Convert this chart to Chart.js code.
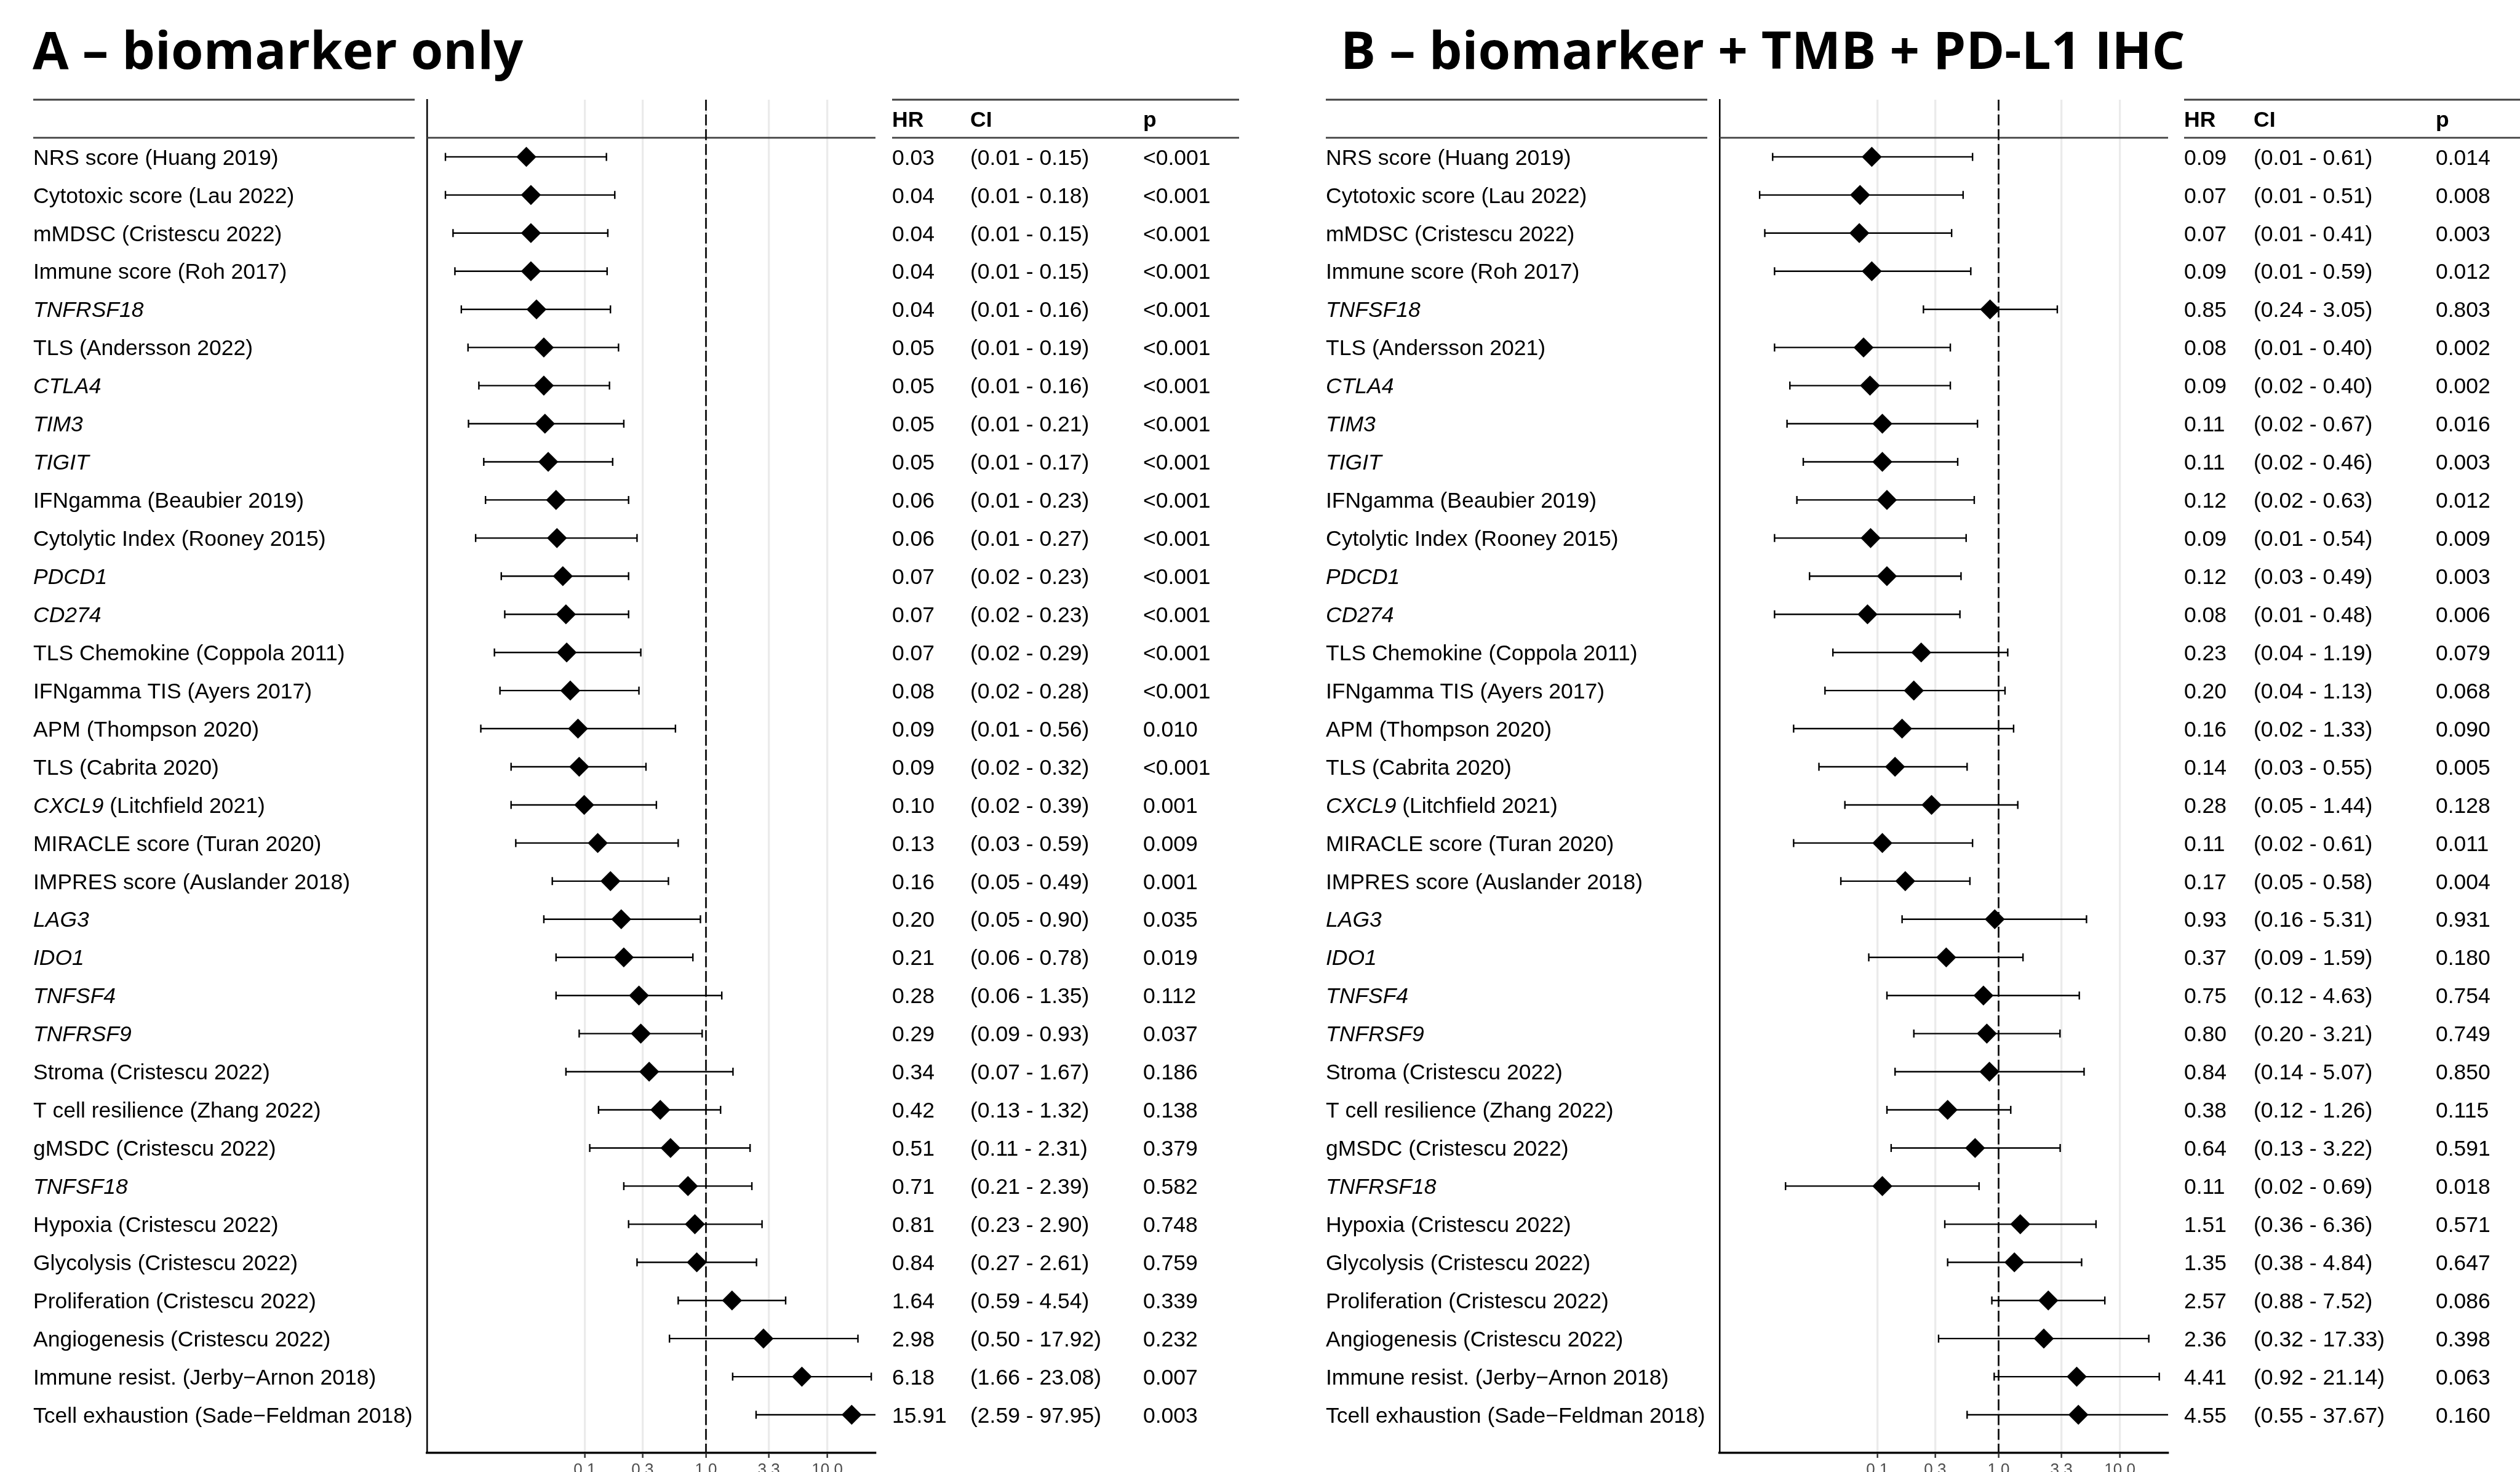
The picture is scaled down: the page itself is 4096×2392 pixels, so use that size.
<!DOCTYPE html>
<html>
<head>
<meta charset="utf-8">
<script src="https://cdn.jsdelivr.net/npm/chart.js@4.4.1/dist/chart.umd.min.js"></script>
<style>
  html, body { margin: 0; padding: 0; background: #fff; overflow: hidden; width: 4096px; height: 2392px; }
  .panel { position: absolute; top: 0; }
</style>
</head>
<body>
<div class="panel" style="left:0"><canvas id="chartA" width="2101" height="2440"></canvas></div>
<div class="panel" style="left:2101px"><canvas id="chartB" width="2101" height="2440"></canvas></div>
<script>
// ---- data ----
const xTicks = [0.1, 0.3, 1, 3.3, 10];

// *text* = italic (gene names)
const labelsA = ['NRS score (Huang 2019)', 'Cytotoxic score (Lau 2022)', 'mMDSC (Cristescu 2022)', 'Immune score (Roh 2017)',
  '*TNFRSF18*', 'TLS (Andersson 2022)', '*CTLA4*', '*TIM3*', '*TIGIT*', 'IFNgamma (Beaubier 2019)', 'Cytolytic Index (Rooney 2015)',
  '*PDCD1*', '*CD274*', 'TLS Chemokine (Coppola 2011)', 'IFNgamma TIS (Ayers 2017)', 'APM (Thompson 2020)', 'TLS (Cabrita 2020)',
  '*CXCL9* (Litchfield 2021)', 'MIRACLE score (Turan 2020)', 'IMPRES score (Auslander 2018)', '*LAG3*', '*IDO1*', '*TNFSF4*',
  '*TNFRSF9*', 'Stroma (Cristescu 2022)', 'T cell resilience (Zhang 2022)', 'gMSDC (Cristescu 2022)', '*TNFSF18*',
  'Hypoxia (Cristescu 2022)', 'Glycolysis (Cristescu 2022)', 'Proliferation (Cristescu 2022)', 'Angiogenesis (Cristescu 2022)',
  'Immune resist. (Jerby\u2212Arnon 2018)', 'Tcell exhaustion (Sade\u2212Feldman 2018)'];
const hrA = [0.033, 0.036, 0.036, 0.036, 0.040, 0.046, 0.046, 0.047, 0.050, 0.058, 0.059, 0.066, 0.070, 0.071, 0.076, 0.088, 0.090,
  0.099, 0.128, 0.163, 0.20, 0.21, 0.28, 0.29, 0.34, 0.42, 0.51, 0.71, 0.81, 0.84, 1.64, 2.98, 6.18, 15.91];
const loA = [0.0071, 0.0071, 0.0082, 0.0085, 0.0096, 0.0109, 0.0134, 0.011, 0.0147, 0.0152, 0.0126, 0.0205, 0.0219, 0.018, 0.020,
  0.0139, 0.0247, 0.0247, 0.027, 0.054, 0.046, 0.058, 0.058, 0.09, 0.07, 0.13, 0.11, 0.21, 0.23, 0.27, 0.59, 0.50, 1.66, 2.59];
const hiA = [0.151, 0.177, 0.155, 0.153, 0.163, 0.19, 0.16, 0.21, 0.17, 0.23, 0.27, 0.23, 0.23, 0.29, 0.28, 0.56, 0.32, 0.39, 0.59,
  0.49, 0.90, 0.78, 1.35, 0.93, 1.67, 1.32, 2.31, 2.39, 2.90, 2.61, 4.54, 17.92, 23.08, 97.95];
const hrTextA = ['0.03', '0.04', '0.04', '0.04', '0.04', '0.05', '0.05', '0.05', '0.05', '0.06', '0.06', '0.07', '0.07', '0.07', '0.08',
  '0.09', '0.09', '0.10', '0.13', '0.16', '0.20', '0.21', '0.28', '0.29', '0.34', '0.42', '0.51', '0.71', '0.81', '0.84', '1.64', '2.98',
  '6.18', '15.91'];
const ciTextA = ['(0.01 - 0.15)', '(0.01 - 0.18)', '(0.01 - 0.15)', '(0.01 - 0.15)', '(0.01 - 0.16)', '(0.01 - 0.19)', '(0.01 - 0.16)',
  '(0.01 - 0.21)', '(0.01 - 0.17)', '(0.01 - 0.23)', '(0.01 - 0.27)', '(0.02 - 0.23)', '(0.02 - 0.23)', '(0.02 - 0.29)', '(0.02 - 0.28)',
  '(0.01 - 0.56)', '(0.02 - 0.32)', '(0.02 - 0.39)', '(0.03 - 0.59)', '(0.05 - 0.49)', '(0.05 - 0.90)', '(0.06 - 0.78)', '(0.06 - 1.35)',
  '(0.09 - 0.93)', '(0.07 - 1.67)', '(0.13 - 1.32)', '(0.11 - 2.31)', '(0.21 - 2.39)', '(0.23 - 2.90)', '(0.27 - 2.61)', '(0.59 - 4.54)',
  '(0.50 - 17.92)', '(1.66 - 23.08)', '(2.59 - 97.95)'];
const pTextA = ['<0.001', '<0.001', '<0.001', '<0.001', '<0.001', '<0.001', '<0.001', '<0.001', '<0.001', '<0.001', '<0.001', '<0.001',
  '<0.001', '<0.001', '<0.001', '0.010', '<0.001', '0.001', '0.009', '0.001', '0.035', '0.019', '0.112', '0.037', '0.186', '0.138',
  '0.379', '0.582', '0.748', '0.759', '0.339', '0.232', '0.007', '0.003'];

const labelsB = ['NRS score (Huang 2019)', 'Cytotoxic score (Lau 2022)', 'mMDSC (Cristescu 2022)', 'Immune score (Roh 2017)',
  '*TNFSF18*', 'TLS (Andersson 2021)', '*CTLA4*', '*TIM3*', '*TIGIT*', 'IFNgamma (Beaubier 2019)', 'Cytolytic Index (Rooney 2015)',
  '*PDCD1*', '*CD274*', 'TLS Chemokine (Coppola 2011)', 'IFNgamma TIS (Ayers 2017)', 'APM (Thompson 2020)', 'TLS (Cabrita 2020)',
  '*CXCL9* (Litchfield 2021)', 'MIRACLE score (Turan 2020)', 'IMPRES score (Auslander 2018)', '*LAG3*', '*IDO1*', '*TNFSF4*',
  '*TNFRSF9*', 'Stroma (Cristescu 2022)', 'T cell resilience (Zhang 2022)', 'gMSDC (Cristescu 2022)', '*TNFRSF18*',
  'Hypoxia (Cristescu 2022)', 'Glycolysis (Cristescu 2022)', 'Proliferation (Cristescu 2022)', 'Angiogenesis (Cristescu 2022)',
  'Immune resist. (Jerby\u2212Arnon 2018)', 'Tcell exhaustion (Sade\u2212Feldman 2018)'];
const hrB = [0.090, 0.072, 0.071, 0.090, 0.85, 0.077, 0.087, 0.11, 0.11, 0.12, 0.088, 0.12, 0.083, 0.23, 0.20, 0.16, 0.14, 0.28, 0.11,
  0.17, 0.93, 0.37, 0.75, 0.80, 0.84, 0.38, 0.64, 0.11, 1.51, 1.35, 2.57, 2.36, 4.41, 4.55];
const loB = [0.0137, 0.0107, 0.0118, 0.0142, 0.24, 0.0142, 0.019, 0.018, 0.0245, 0.0217, 0.0142, 0.0276, 0.0142, 0.043, 0.037, 0.0204,
  0.033, 0.054, 0.0204, 0.05, 0.16, 0.085, 0.12, 0.20, 0.14, 0.12, 0.13, 0.0175, 0.36, 0.38, 0.88, 0.32, 0.92, 0.55];
const hiB = [0.61, 0.51, 0.41, 0.59, 3.05, 0.40, 0.40, 0.67, 0.46, 0.63, 0.54, 0.49, 0.48, 1.19, 1.13, 1.33, 0.55, 1.44, 0.61, 0.58,
  5.31, 1.59, 4.63, 3.21, 5.07, 1.26, 3.22, 0.69, 6.36, 4.84, 7.52, 17.33, 21.14, 37.67];
const hrTextB = ['0.09', '0.07', '0.07', '0.09', '0.85', '0.08', '0.09', '0.11', '0.11', '0.12', '0.09', '0.12', '0.08', '0.23', '0.20',
  '0.16', '0.14', '0.28', '0.11', '0.17', '0.93', '0.37', '0.75', '0.80', '0.84', '0.38', '0.64', '0.11', '1.51', '1.35', '2.57', '2.36',
  '4.41', '4.55'];
const ciTextB = ['(0.01 - 0.61)', '(0.01 - 0.51)', '(0.01 - 0.41)', '(0.01 - 0.59)', '(0.24 - 3.05)', '(0.01 - 0.40)', '(0.02 - 0.40)',
  '(0.02 - 0.67)', '(0.02 - 0.46)', '(0.02 - 0.63)', '(0.01 - 0.54)', '(0.03 - 0.49)', '(0.01 - 0.48)', '(0.04 - 1.19)', '(0.04 - 1.13)',
  '(0.02 - 1.33)', '(0.03 - 0.55)', '(0.05 - 1.44)', '(0.02 - 0.61)', '(0.05 - 0.58)', '(0.16 - 5.31)', '(0.09 - 1.59)', '(0.12 - 4.63)',
  '(0.20 - 3.21)', '(0.14 - 5.07)', '(0.12 - 1.26)', '(0.13 - 3.22)', '(0.02 - 0.69)', '(0.36 - 6.36)', '(0.38 - 4.84)', '(0.88 - 7.52)',
  '(0.32 - 17.33)', '(0.92 - 21.14)', '(0.55 - 37.67)'];
const pTextB = ['0.014', '0.008', '0.003', '0.012', '0.803', '0.002', '0.002', '0.016', '0.003', '0.012', '0.009', '0.003', '0.006',
  '0.079', '0.068', '0.090', '0.005', '0.128', '0.011', '0.004', '0.931', '0.180', '0.754', '0.749', '0.850', '0.115', '0.591', '0.018',
  '0.571', '0.647', '0.086', '0.398', '0.063', '0.160'];

// ---- drawing ----
const FS = 35.5;
const FONT = '"Liberation Sans", Arial, sans-serif';
const LINE_COL = '#404040';

function drawLabel(ctx, text, x, y) {
  let cx = x;
  text.split('*').forEach((s, k) => {
    if (!s) return;
    ctx.font = (k % 2 ? 'italic ' : '') + FS + 'px ' + FONT;
    ctx.fillText(s, cx, y);
    cx += ctx.measureText(s).width;
  });
}

function hline(ctx, x1, x2, y, w) {
  ctx.beginPath();
  ctx.moveTo(x1, y);
  ctx.lineTo(x2, y);
  ctx.lineWidth = w;
  ctx.stroke();
}

function forestPlugin(p) {
  return {
    id: 'forest',
    beforeDatasetsDraw(chart) {
      const { ctx, chartArea: ca, scales: { x, y } } = chart;
      ctx.save();
      // header underline over plot
      ctx.strokeStyle = LINE_COL;
      hline(ctx, ca.left, ca.right, y.getPixelForValue(-0.5), 2.8);
      // reference line at HR = 1
      const x1 = x.getPixelForValue(1);
      ctx.strokeStyle = '#111';
      ctx.lineWidth = 2.8;
      ctx.setLineDash([17.8, 6.2]);
      ctx.beginPath();
      ctx.moveTo(x1, ca.top);
      ctx.lineTo(x1, ca.bottom);
      ctx.stroke();
      ctx.setLineDash([]);
      // confidence intervals
      ctx.strokeStyle = '#000';
      ctx.lineWidth = 2.4;
      const cap = 6.5;
      p.lo.forEach((lo, i) => {
        const yy = y.getPixelForValue(i);
        const xl = x.getPixelForValue(lo);
        const xh = Math.min(x.getPixelForValue(p.hi[i]), ca.right);
        ctx.beginPath();
        ctx.moveTo(xl, yy);
        ctx.lineTo(xh, yy);
        ctx.moveTo(xl, yy - cap);
        ctx.lineTo(xl, yy + cap);
        if (p.hi[i] <= x.max) {
          ctx.moveTo(xh, yy - cap);
          ctx.lineTo(xh, yy + cap);
        }
        ctx.stroke();
      });
      ctx.restore();
    },
    afterDraw(chart) {
      const { ctx, scales: { y } } = chart;
      ctx.save();
      ctx.fillStyle = '#000';
      ctx.textBaseline = 'alphabetic';
      ctx.textAlign = 'left';
      // title
      ctx.font = 'bold 85px "Open Sans", sans-serif';
      ctx.fillText(p.title, p.titleX, 112);
      const yTop = y.getPixelForValue(-1.5);
      const yHead = y.getPixelForValue(-0.5);
      const off = FS * 0.716 / 2;
      // label column rules
      ctx.strokeStyle = LINE_COL;
      hline(ctx, 54, 674, yTop, 2.8);
      hline(ctx, 54, 674, yHead, 2.8);
      // table rules
      hline(ctx, p.colHR, p.tableEnd, yTop, 2.8);
      hline(ctx, p.colHR, p.tableEnd, yHead, 2.8);
      // table header
      const yH = y.getPixelForValue(-1) + off;
      ctx.font = 'bold ' + FS + 'px ' + FONT;
      ctx.fillText('HR', p.colHR, yH);
      ctx.fillText('CI', p.colCI, yH);
      ctx.fillText('p', p.colP, yH);
      // rows
      p.labels.forEach((lab, i) => {
        const yy = y.getPixelForValue(i) + off;
        drawLabel(ctx, lab, 54, yy);
        ctx.font = FS + 'px ' + FONT;
        ctx.fillText(p.hrText[i], p.colHR, yy);
        ctx.fillText(p.ciText[i], p.colCI, yy);
        ctx.fillText(p.pText[i], p.colP, yy);
      });
      ctx.restore();
    }
  };
}

function makeChart(id, p) {
  return new Chart(document.getElementById(id), {
    type: 'scatter',
    data: {
      datasets: [{
        data: p.hr.map((v, i) => ({ x: v, y: i })),
        pointStyle: 'rectRot',
        pointRadius: 16.3,
        backgroundColor: '#000',
        borderColor: '#000',
        borderWidth: 0
      }]
    },
    options: {
      responsive: false,
      animation: false,
      events: [],
      layout: { padding: { left: 694, right: 678, top: 162, bottom: 19 } },
      plugins: { legend: { display: false }, tooltip: { enabled: false } },
      scales: {
        x: {
          type: 'logarithmic',
          min: 0.005,
          max: 25,
          afterBuildTicks: s => { s.ticks = xTicks.map(v => ({ value: v })); },
          afterFit: s => { s.height = 60; },
          grid: { color: '#ebebeb', lineWidth: 3.3, tickLength: 8, tickColor: '#333', tickWidth: 2.5 },
          border: { display: true, color: '#000', width: 3.5 },
          ticks: {
            autoSkip: false, maxRotation: 0, padding: 4, color: '#4d4d4d',
            font: { family: 'Liberation Sans', size: 26 },
            callback: v => Number(v).toFixed(1)
          }
        },
        y: {
          type: 'linear',
          min: -1.5,
          max: 34,
          reverse: true,
          bounds: 'data',
          afterFit: s => { s.width = 0; },
          grid: { display: false },
          ticks: { display: false },
          border: { display: true, color: '#000', width: 2.5 }
        }
      }
    },
    plugins: [forestPlugin(p)]
  });
}

function build() {
  makeChart('chartA', {
    title: 'A \u2013 biomarker only', titleX: 53,
    labels: labelsA, hr: hrA, lo: loA, hi: hiA, hrText: hrTextA, ciText: ciTextA, pText: pTextA,
    colHR: 1450, colCI: 1577, colP: 1858, tableEnd: 2014
  });
  makeChart('chartB', {
    title: 'B \u2013 biomarker + TMB + PD-L1 IHC', titleX: 78,
    labels: labelsB, hr: hrB, lo: loB, hi: hiB, hrText: hrTextB, ciText: ciTextB, pText: pTextB,
    colHR: 1449, colCI: 1562, colP: 1858, tableEnd: 2101
  });
}

Promise.all([
  document.fonts.load('35px "Liberation Sans"'),
  document.fonts.load('italic 35px "Liberation Sans"'),
  document.fonts.load('bold 35px "Liberation Sans"'),
  document.fonts.load('bold 85px "Open Sans"')
]).then(build, build);
</script>
</body>
</html>
